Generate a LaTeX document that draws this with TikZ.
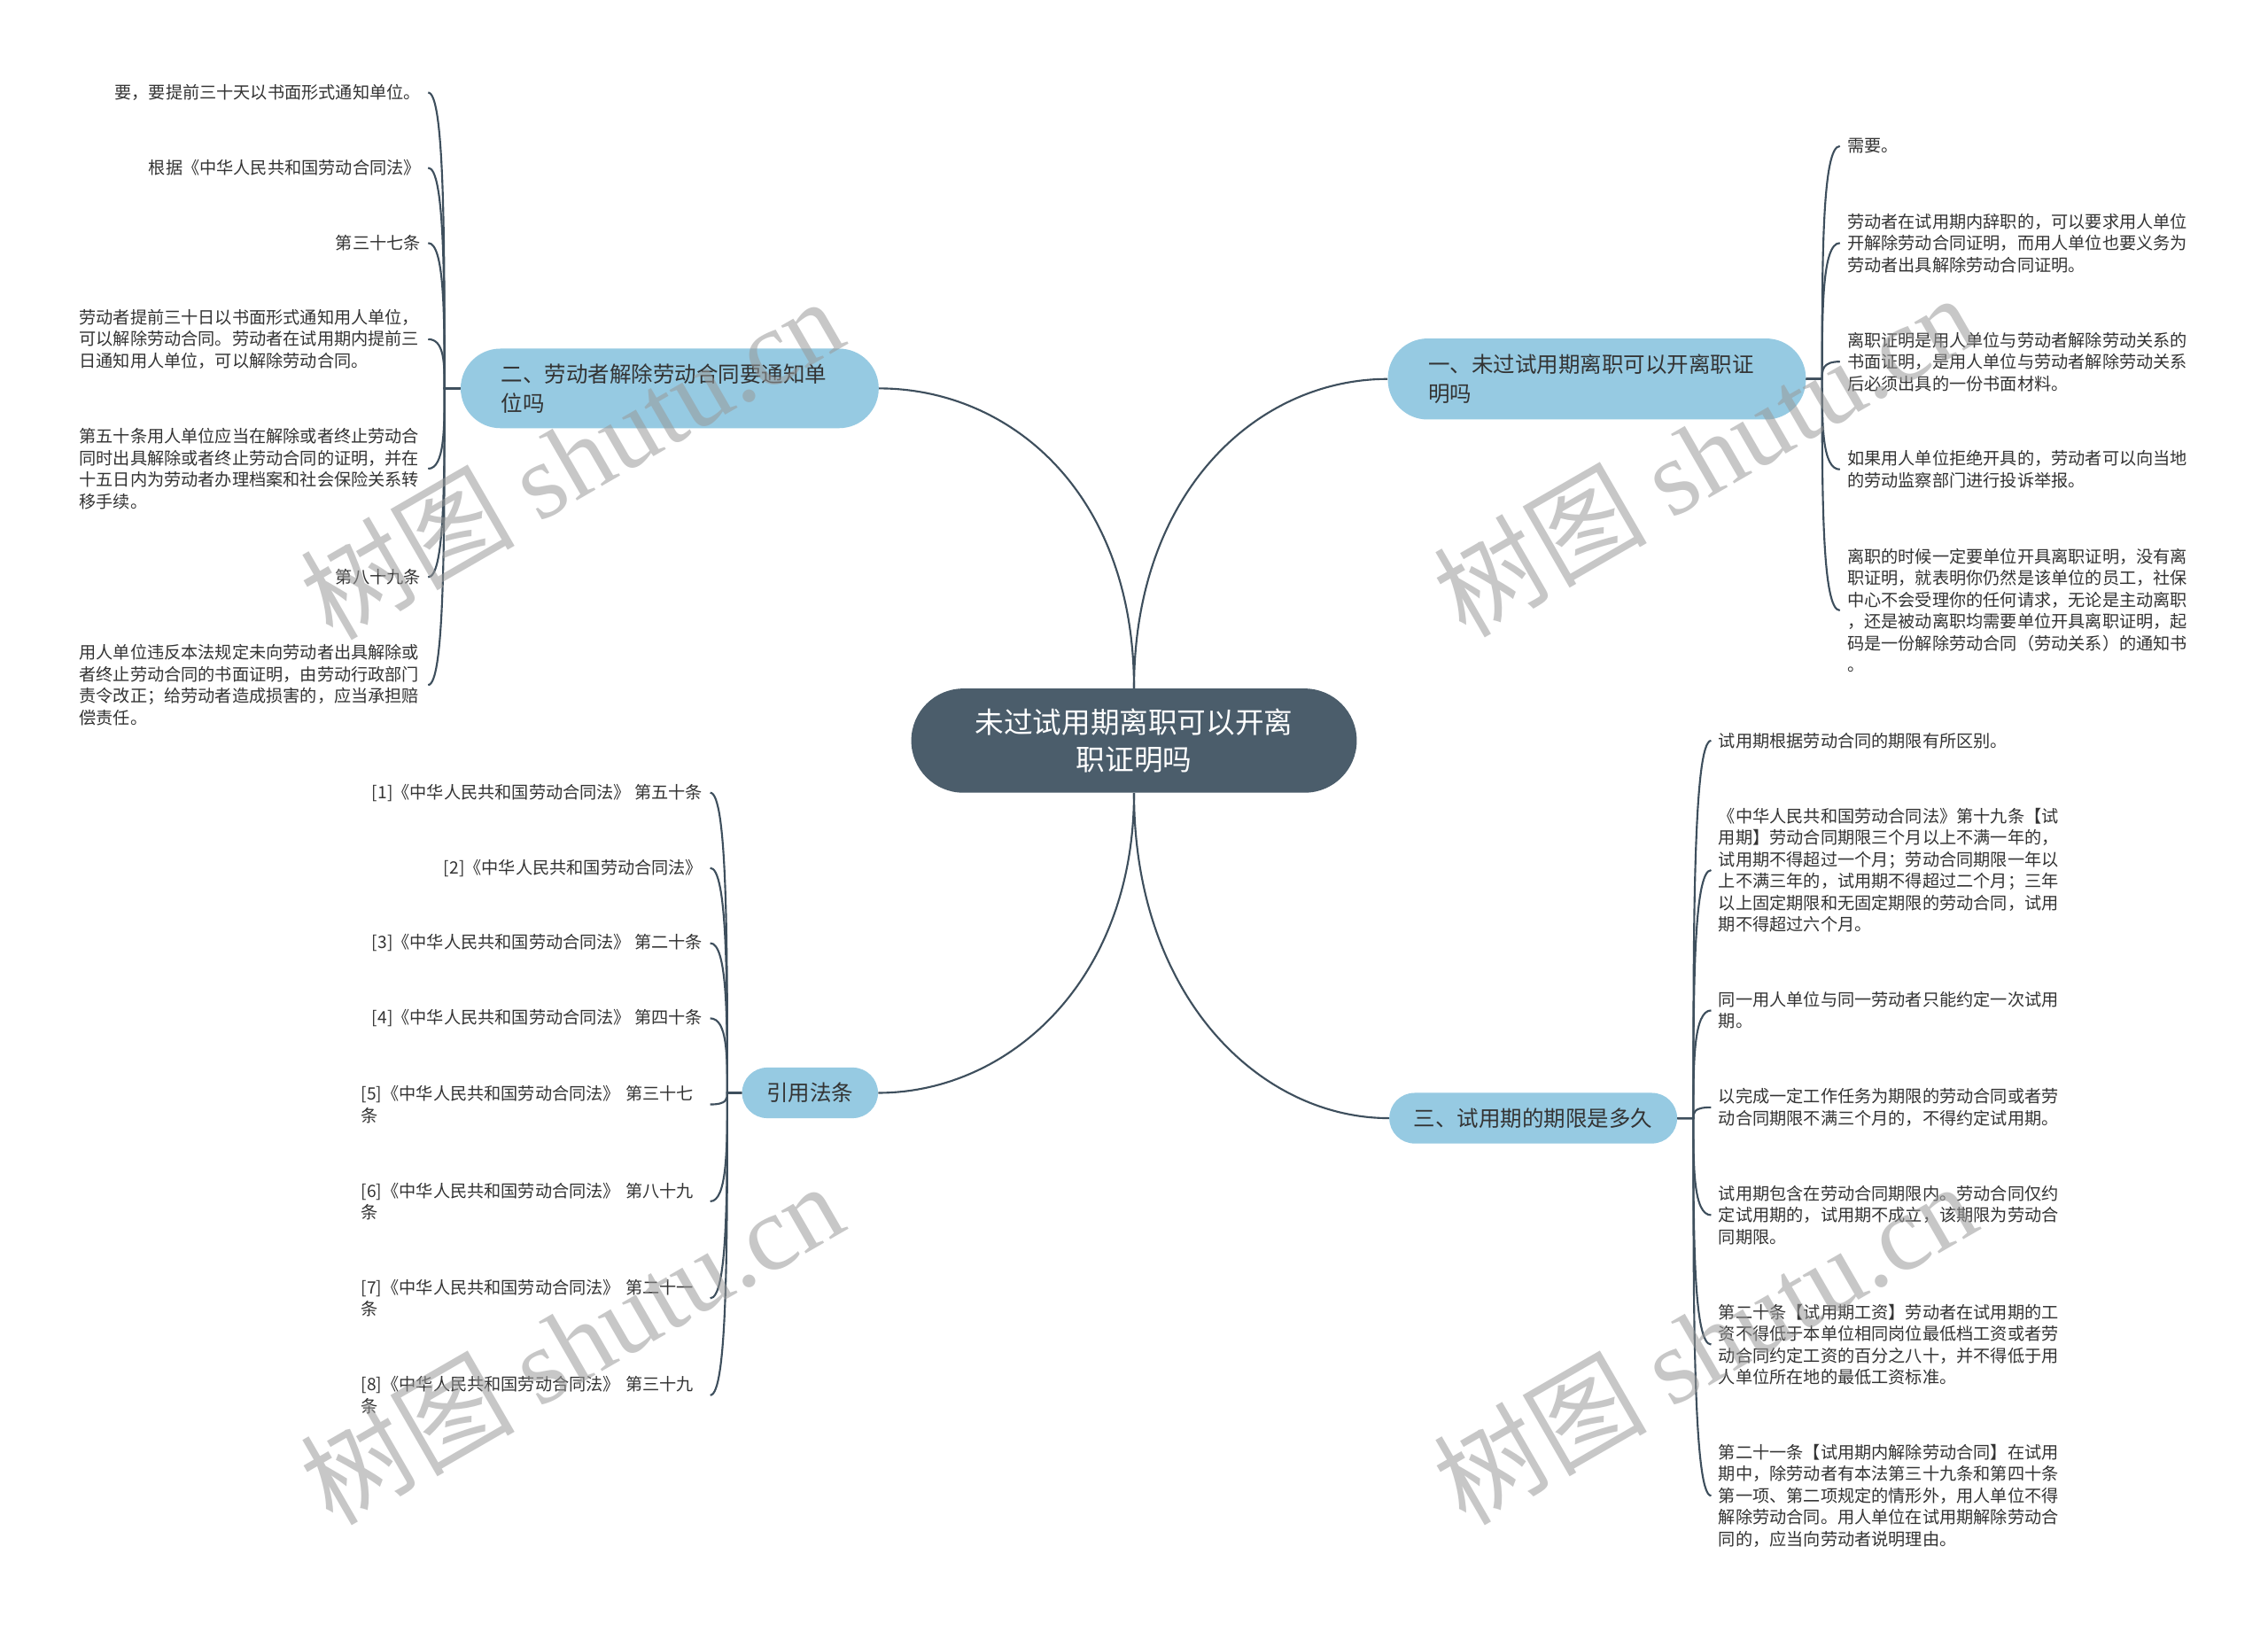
\documentclass[tikz,border=0pt]{standalone}
\usepackage{fontspec}
\setmainfont{Noto Sans CJK SC}
\newfontfamily\wmlatin{Liberation Serif}
\usetikzlibrary{calc}
\definecolor{linec}{HTML}{3E4F5D}
\definecolor{pillc}{HTML}{96CAE2}
\definecolor{rootc}{HTML}{4B5D6B}
\definecolor{txtc}{HTML}{333333}
\tikzset{
  rootbox/.style={fill=rootc, draw=none, rounded corners=36pt, minimum width=308pt,
    minimum height=72pt, text=white, font=\fontsize{20}{26}\selectfont, align=center, inner sep=0pt},
  topicbox/.style={fill=pillc, draw=none, text=txtc, font=\fontsize{15}{20}\selectfont},
  topicwide/.style={topicbox, rounded corners=27.5pt, minimum height=56pt, inner ysep=0pt,
    inner xsep=28pt, text width=233pt, align=left},
  topicshort/.style={topicbox, rounded corners=17.5pt, minimum height=35pt, inner ysep=0pt,
    inner xsep=17pt},
  leaf/.style={text=txtc, font=\fontsize{11.75}{15}\selectfont, inner xsep=5pt, inner ysep=1pt},
  wrapleaf/.style={leaf, text width=236pt, align=left},
  conn/.style={draw=linec, line width=1.3pt},
  wm/.style={font=\fontsize{74}{74}\selectfont, text=black!40, opacity=0.55, rotate=30, inner sep=0pt},
}
\begin{document}
\begin{tikzpicture}[x=1pt,y=-1pt]
\useasboundingbox (0,0) rectangle (1568,1128);
\fill[white] (0,0) rectangle (1568,1128);

% root and main topics
\node[rootbox] (root) at (784,512) {未过试用期离职可以开离\\职证明吗};
\node[topicwide] (b1) at (1104,262) {一、未过试用期离职可以开离职证\\明吗};
\node[topicwide, minimum height=55pt] (b2) at (463,268.5) {二、劳动者解除劳动合同要通知单\\位吗};
\node[topicshort] (b3) at (1060,773) {三、试用期的期限是多久};
\node[topicshort] (b4) at (560,755.5) {引用法条};

% branch 1 leaves
\node[leaf, anchor=west] (a1) at (1272,101) {需要。};
\node[wrapleaf, anchor=west] (a2) at (1272,168) {劳动者在试用期内辞职的，可以要求用人单位\\开解除劳动合同证明，而用人单位也要义务为\\劳动者出具解除劳动合同证明。};
\node[wrapleaf, anchor=west] (a3) at (1272,250) {离职证明是用人单位与劳动者解除劳动关系的\\书面证明，是用人单位与劳动者解除劳动关系\\后必须出具的一份书面材料。};
\node[wrapleaf, anchor=west] (a4) at (1272,324.5) {如果用人单位拒绝开具的，劳动者可以向当地\\的劳动监察部门进行投诉举报。};
\node[wrapleaf, anchor=west] (a5) at (1272,422) {离职的时候一定要单位开具离职证明，没有离\\职证明，就表明你仍然是该单位的员工，社保\\中心不会受理你的任何请求，无论是主动离职\\，还是被动离职均需要单位开具离职证明，起\\码是一份解除劳动合同（劳动关系）的通知书\\。};

% branch 3 leaves
\node[leaf, anchor=west] (c1) at (1183,512) {试用期根据劳动合同的期限有所区别。};
\node[wrapleaf, anchor=west] (c2) at (1183,601.5) {《中华人民共和国劳动合同法》第十九条【试\\用期】劳动合同期限三个月以上不满一年的，\\试用期不得超过一个月；劳动合同期限一年以\\上不满三年的，试用期不得超过二个月；三年\\以上固定期限和无固定期限的劳动合同，试用\\期不得超过六个月。};
\node[wrapleaf, anchor=west] (c3) at (1183,698.5) {同一用人单位与同一劳动者只能约定一次试用\\期。};
\node[wrapleaf, anchor=west] (c4) at (1183,765.5) {以完成一定工作任务为期限的劳动合同或者劳\\动合同期限不满三个月的，不得约定试用期。};
\node[wrapleaf, anchor=west] (c5) at (1183,840) {试用期包含在劳动合同期限内。劳动合同仅约\\定试用期的，试用期不成立，该期限为劳动合\\同期限。};
\node[wrapleaf, anchor=west] (c6) at (1183,929.5) {第二十条【试用期工资】劳动者在试用期的工\\资不得低于本单位相同岗位最低档工资或者劳\\动合同约定工资的百分之八十，并不得低于用\\人单位所在地的最低工资标准。};
\node[wrapleaf, anchor=west] (c7) at (1183,1034) {第二十一条【试用期内解除劳动合同】在试用\\期中，除劳动者有本法第三十九条和第四十条\\第一项、第二项规定的情形外，用人单位不得\\解除劳动合同。用人单位在试用期解除劳动合\\同的，应当向劳动者说明理由。};

% branch 2 leaves
\node[leaf, anchor=east] (d1) at (296,64) {要，要提前三十天以书面形式通知单位。};
\node[leaf, anchor=east] (d2) at (296,116) {根据《中华人民共和国劳动合同法》};
\node[leaf, anchor=east] (d3) at (296,168) {第三十七条};
\node[wrapleaf, anchor=east] (d4) at (296,234.5) {劳动者提前三十日以书面形式通知用人单位，\\可以解除劳动合同。劳动者在试用期内提前三\\日通知用人单位，可以解除劳动合同。};
\node[wrapleaf, anchor=east] (d5) at (296,324) {第五十条用人单位应当在解除或者终止劳动合\\同时出具解除或者终止劳动合同的证明，并在\\十五日内为劳动者办理档案和社会保险关系转\\移手续。};
\node[leaf, anchor=east] (d6) at (296,399) {第八十九条};
\node[wrapleaf, anchor=east] (d7) at (296,473.5) {用人单位违反本法规定未向劳动者出具解除或\\者终止劳动合同的书面证明，由劳动行政部门\\责令改正；给劳动者造成损害的，应当承担赔\\偿责任。};

% branch 4 leaves
\node[leaf, anchor=east] (e1) at (491,548) {[1]《中华人民共和国劳动合同法》 第五十条};
\node[leaf, anchor=east] (e2) at (491,600) {[2]《中华人民共和国劳动合同法》};
\node[leaf, anchor=east] (e3) at (491,652) {[3]《中华人民共和国劳动合同法》 第二十条};
\node[leaf, anchor=east] (e4) at (491,704) {[4]《中华人民共和国劳动合同法》 第四十条};
\node[wrapleaf, anchor=east] (e5) at (491,763.5) {[5]《中华人民共和国劳动合同法》 第三十七\\条};
\node[wrapleaf, anchor=east] (e6) at (491,830.5) {[6]《中华人民共和国劳动合同法》 第八十九\\条};
\node[wrapleaf, anchor=east] (e7) at (491,897.5) {[7]《中华人民共和国劳动合同法》 第二十一\\条};
\node[wrapleaf, anchor=east] (e8) at (491,964.5) {[8]《中华人民共和国劳动合同法》 第三十九\\条};

% root connectors
\draw[conn] (root.north) .. controls ($(root.north)+(0,-136)$) and ($(b1.west)+(-90,0)$) .. (b1.west);
\draw[conn] (root.north) .. controls ($(root.north)+(0,-136)$) and ($(b2.east)+(90,0)$) .. (b2.east);
\draw[conn] (root.south) .. controls ($(root.south)+(0,140)$) and ($(b3.west)+(-90,0)$) .. (b3.west);
\draw[conn] (root.south) .. controls ($(root.south)+(0,130)$) and ($(b4.east)+(90,0)$) .. (b4.east);

% junction points of the brackets
\coordinate (s1) at ($(b1.east)+(11,0)$);
\coordinate (s2) at ($(b2.west)+(-11,0)$);
\coordinate (s3) at ($(b3.east)+(11,0)$);
\coordinate (s4) at ($(b4.west)+(-10,0)$);

% leaf connectors
\foreach \n in {a1,a2,a3,a4,a5}
  \draw[conn] (b1.east) -- (s1) .. controls ($(s1)!0.5!(s1 |- \n.west)$) and (s1 |- \n.west) .. (\n.west);
\foreach \n in {c1,c2,c3,c4,c5,c6,c7}
  \draw[conn] (b3.east) -- (s3) .. controls ($(s3)!0.5!(s3 |- \n.west)$) and (s3 |- \n.west) .. (\n.west);
\foreach \n in {d1,d2,d3,d4,d5,d6,d7}
  \draw[conn] (b2.west) -- (s2) .. controls ($(s2)!0.5!(s2 |- \n.east)$) and (s2 |- \n.east) .. (\n.east);
\foreach \n in {e1,e2,e3,e4,e5,e6,e7,e8}
  \draw[conn] (b4.west) -- (s4) .. controls ($(s4)!0.5!(s4 |- \n.east)$) and (s4 |- \n.east) .. (\n.east);

% watermarks
\node[wm] (w1) at (395,316) {树图 {\wmlatin shutu.cn}};
\node[wm] (w2) at (1178,314) {树图 {\wmlatin shutu.cn}};
\node[wm] (w3) at (395,928) {树图 {\wmlatin shutu.cn}};
\node[wm] (w4) at (1178,928) {树图 {\wmlatin shutu.cn}};
\end{tikzpicture}
\end{document}
